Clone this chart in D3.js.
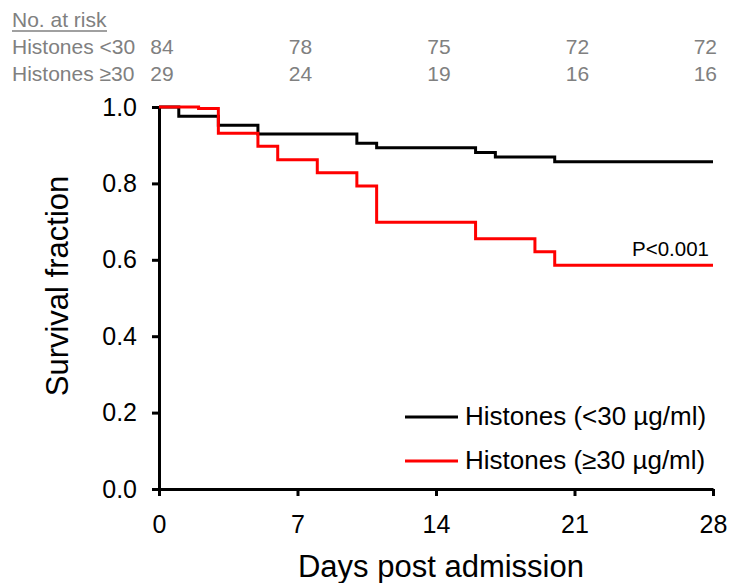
<!DOCTYPE html>
<html>
<head>
<meta charset="utf-8">
<script src="https://cdn.jsdelivr.net/npm/d3@7"></script>
<style>
  body { margin: 0; background: #fff; }
  svg { display: block; font-family: "Liberation Sans", Arial, sans-serif; }
</style>
</head>
<body>
<svg id="chart" width="730" height="583"></svg>
<script>
// number at risk table
var riskDays = [0, 7, 14, 21, 28];
var riskLow = [84, 78, 75, 72, 72];
var riskHigh = [29, 24, 19, 16, 16];
var riskLabels = ["Histones <30", "Histones \u226530"];

// Kaplan-Meier steps (day, survival fraction after the step)
var lowDays = [0, 1, 3, 5, 10, 11, 16, 17, 20, 28];
var lowSurv = [1.0, 0.976, 0.952, 0.929, 0.905, 0.893, 0.881, 0.869, 0.857, 0.857];
var highDays = [0, 2, 3, 5, 6, 8, 10, 11, 16, 19, 20, 28];
var highSurv = [1.0, 0.996, 0.931, 0.897, 0.862, 0.828, 0.793, 0.698, 0.655, 0.621, 0.586, 0.586];

var xTicks = [0, 7, 14, 21, 28];
var yTicks = [0, 0.2, 0.4, 0.6, 0.8, 1.0];
var legendLabels = ["Histones (<30 \u00b5g/ml)", "Histones (\u226530 \u00b5g/ml)"];
var colors = ["#000000", "#ff0000"];

var svg = d3.select("#chart");

var x = d3.scaleLinear().domain([0, 28]).range([159, 713]);
var y = d3.scaleLinear().domain([0, 1]).range([489, 107]);

// axes
var xAxis = svg.append("g")
	.attr("transform", "translate(0," + y(0) + ")")
	.call(d3.axisBottom(x).tickValues(xTicks).tickSize(7).tickSizeOuter(0).tickPadding(14));

var yAxis = svg.append("g")
	.attr("transform", "translate(" + x(0) + ",0)")
	.call(d3.axisLeft(y).tickValues(yTicks).tickFormat(d3.format(".1f")).tickSize(7).tickSizeOuter(0).tickPadding(15));

[xAxis, yAxis].forEach(function (a) {
	a.select(".domain").attr("stroke", "#000").attr("stroke-width", 3);
	a.selectAll(".tick line").attr("stroke", "#000").attr("stroke-width", 3);
	a.selectAll(".tick text").attr("fill", "#000").style("font-size", "25px")
		.style("font-family", "'Liberation Sans', Arial, sans-serif");
});
xAxis.selectAll(".tick text").attr("dy", "0.9em");

// curves
var line = d3.line()
	.x(function (d) { return x(d[0]); })
	.y(function (d) { return y(d[1]); })
	.curve(d3.curveStepAfter);

var series = [d3.zip(lowDays, lowSurv), d3.zip(highDays, highSurv)];

svg.append("g")
	.selectAll("path")
	.data(series)
	.enter().append("path")
	.attr("d", line)
	.attr("fill", "none")
	.attr("stroke", function (d, i) { return colors[i]; })
	.attr("stroke-width", 3);

// axis titles
svg.append("text")
	.attr("x", 441)
	.attr("y", 577)
	.attr("text-anchor", "middle")
	.style("font-size", "31px")
	.text("Days post admission");

svg.append("text")
	.attr("transform", "translate(68,286) rotate(-90)")
	.attr("text-anchor", "middle")
	.style("font-size", "31px")
	.text("Survival fraction");

// p value
svg.append("text")
	.attr("x", 709)
	.attr("y", 256)
	.attr("text-anchor", "end")
	.style("font-size", "20.5px")
	.text("P<0.001");

// legend
var legend = svg.append("g")
	.selectAll("g")
	.data(legendLabels)
	.enter().append("g")
	.attr("transform", function (d, i) { return "translate(405," + (417 + i * 44) + ")"; });

legend.append("line")
	.attr("x1", 0).attr("x2", 53)
	.attr("stroke", function (d, i) { return colors[i]; })
	.attr("stroke-width", 3);

legend.append("text")
	.attr("x", 60)
	.attr("y", 8)
	.style("font-size", "26px")
	.text(function (d) { return d; });

// no. at risk
var gray = "#808080";
svg.append("text")
	.attr("x", 12).attr("y", 27)
	.attr("fill", gray)
	.style("font-size", "21px")
	.text("No. at risk");
svg.append("line")
	.attr("x1", 12).attr("x2", 107)
	.attr("y1", 31).attr("y2", 31)
	.attr("stroke", gray).attr("stroke-width", 1.5);

var rows = [riskLow, riskHigh];
rows.forEach(function (vals, r) {
	var yy = 54 + r * 27;
	svg.append("text")
		.attr("x", 12).attr("y", yy)
		.attr("fill", gray)
		.style("font-size", "21px")
		.text(riskLabels[r]);
	svg.append("g")
		.selectAll("text")
		.data(vals)
		.enter().append("text")
		.attr("x", function (d, i) { return i === vals.length - 1 ? x(riskDays[i]) + 4 : x(riskDays[i]) + 3; })
		.attr("y", yy)
		.attr("text-anchor", function (d, i) { return i === vals.length - 1 ? "end" : "middle"; })
		.attr("fill", gray)
		.style("font-size", "21px")
		.text(function (d) { return d; });
});
</script>
</body>
</html>
